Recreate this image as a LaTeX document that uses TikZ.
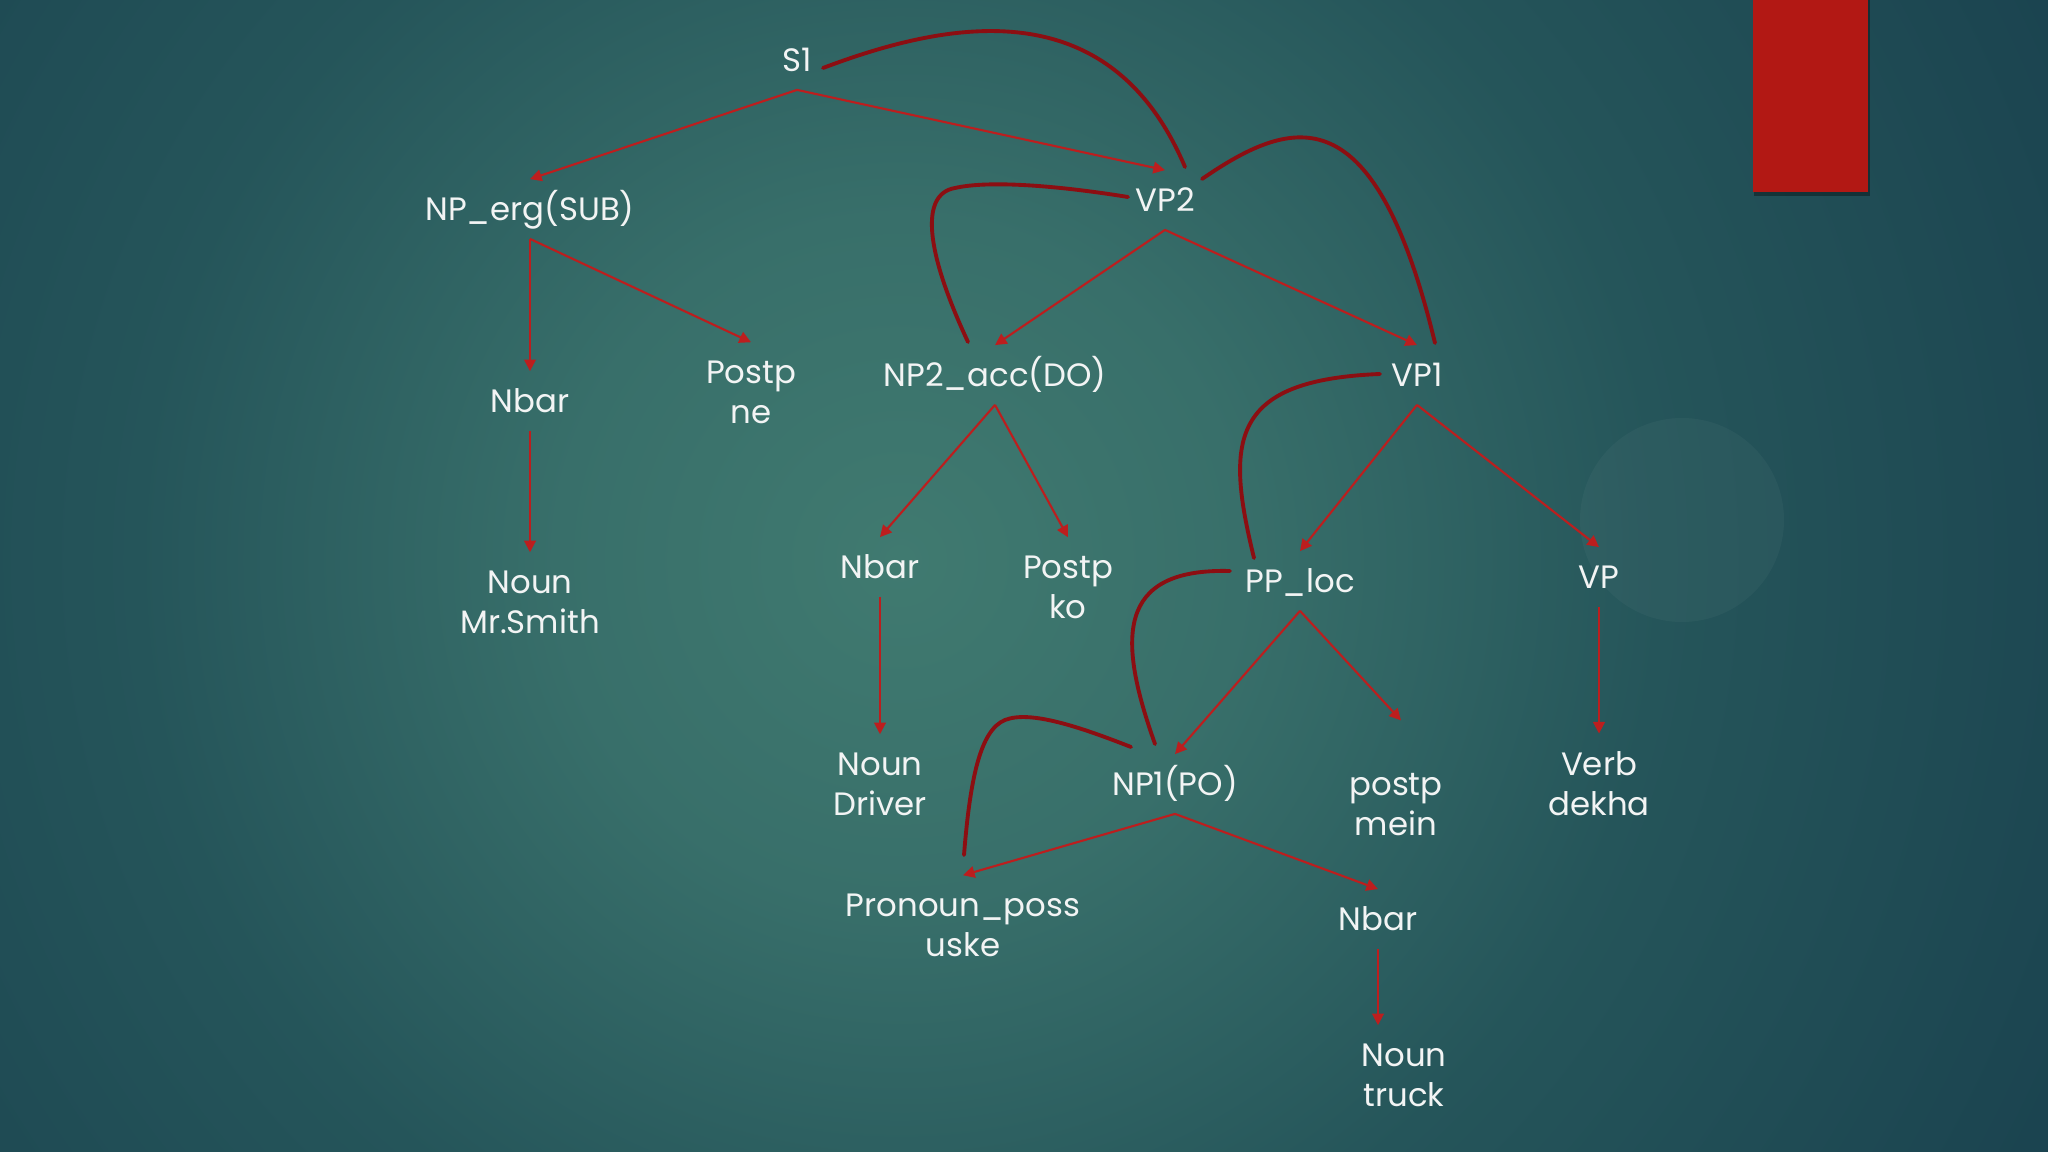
\documentclass[tikz,border=0pt]{standalone}
\usepackage{fontspec}
\setmainfont{Poppins}
\usetikzlibrary{arrows.meta,calc}
\definecolor{bgA}{RGB}{64,122,112}
\definecolor{bgB}{RGB}{56,111,106}
\definecolor{bgC}{RGB}{37,85,90}
\definecolor{bgD}{RGB}{27,68,80}
\definecolor{bgE}{RGB}{20,57,73}
\definecolor{bgF}{RGB}{14,46,67}
\definecolor{arrred}{RGB}{188,30,30}
\definecolor{curvered}{RGB}{140,14,18}
\definecolor{rectred}{RGB}{178,24,20}
\definecolor{txt}{RGB}{242,244,244}
\pgfdeclareradialshading{bgshade}{\pgfpoint{0bp}{0bp}}{color(0bp)=(bgA); color(5.7bp)=(bgB); color(12.7bp)=(bgC); color(21.2bp)=(bgD); color(26.9bp)=(bgE); color(30.4bp)=(bgF); color(50bp)=(bgF)}
\tikzset{
  lbl/.style={text=txt, font=\fontsize{9.2}{11.4}\selectfont, inner xsep=2pt, inner ysep=5pt, text height=6.6pt, text depth=0pt},
  lbltwo/.style={text=txt, font=\fontsize{9.2}{11.4}\selectfont, inner xsep=2pt, inner ysep=5pt, align=center},
  arr/.style={draw=arrred, line width=0.6pt, -{Triangle[length=3.3pt,width=3.3pt]}},
  dep/.style={draw=curvered, line width=1.1pt, line cap=round}
}
\begin{document}
\begin{tikzpicture}[x=0.01cm, y=-0.01cm]
\useasboundingbox (0,0) rectangle (2048,1152);
% background
\begin{scope}
\clip (0,0) rectangle (2048,1152);
\fill[bgF] (0,0) rectangle (2048,1152);
\shade[shading=bgshade] (900,560) circle (1500);
\fill[white, opacity=0.035] (1682,520) circle (102);
\end{scope}
% red tab
\fill[black, opacity=0.35] (1754,0) rectangle (1870,196);
\fill[rectred] (1753,0) rectangle (1868,192);

% nodes
\node[lbl] (S1) at (797,60) {S1};
\node[lbl] (NPerg) at (530,209) {NP\_erg(SUB)};
\node[lbl] (VP2) at (1165,200) {VP2};
\node[lbl] (NbarA) at (530,401) {Nbar};
\node[lbltwo] (PostpNe) at (751,392) {Postp\\ne};
\node[lbl] (NPacc) at (995,375) {NP2\_acc(DO)};
\node[lbl] (VP1) at (1417,375) {VP1};
\node[lbltwo] (NounSmith) at (530,602) {Noun\\Mr.Smith};
\node[lbl] (NbarB) at (880,567) {Nbar};
\node[lbltwo] (PostpKo) at (1068,587) {Postp\\ko};
\node[lbl] (PPloc) at (1300,581) {PP\_loc};
\node[lbl] (VP) at (1599,577) {VP};
\node[lbltwo] (NounDriver) at (880,784) {Noun\\Driver};
\node[lbl] (NP1) at (1175,784) {NP1(PO)};
\node[lbltwo] (PostpMein) at (1396,805) {postp\\mein};
\node[lbltwo] (VerbDekha) at (1599,784) {Verb\\dekha};
\node[lbltwo] (PronPoss) at (963,925) {Pronoun\_poss\\uske};
\node[lbl] (NbarC) at (1378,919) {Nbar};
\node[lbltwo] (NounTruck) at (1404,1075) {Noun\\truck};

% tree arrows
\draw[arr] (S1.south) -- (NPerg.north);
\draw[arr] (S1.south) -- (VP2.north);
\draw[arr] (NPerg.south) -- (NbarA.north);
\draw[arr] (NPerg.south) -- (PostpNe.north);
\draw[arr] (NbarA.south) -- (NounSmith.north);
\draw[arr] (VP2.south) -- (NPacc.north);
\draw[arr] (VP2.south) -- (VP1.north);
\draw[arr] (NPacc.south) -- (NbarB.north);
\draw[arr] (NPacc.south) -- (PostpKo.north);
\draw[arr] (NbarB.south) -- (NounDriver.north);
\draw[arr] (VP1.south) -- (PPloc.north);
\draw[arr] (VP1.south) -- (VP.north);
\draw[arr] (VP.south) -- (VerbDekha.north);
\draw[arr] (PPloc.south) -- (NP1.north);
\coordinate (meinTip) at ($(PostpMein.north)+(5,-35)$);
\draw[arr] (PPloc.south) -- (meinTip);
\draw[arr] (NP1.south) -- (PronPoss.north);
\draw[arr] (NP1.south) -- (NbarC.north);
\draw[arr] (NbarC.south) -- (NbarC.south |- NounTruck.north);

% dependency curves
\coordinate (c1s) at (823,68);   \coordinate (c1e) at (1185,167);
\coordinate (c2s) at (1128,197); \coordinate (c2m) at (955,188); \coordinate (c2e) at (968,342);
\coordinate (c3s) at (1202,179); \coordinate (c3e) at (1435,343);
\coordinate (c4s) at (1380,374); \coordinate (c4e) at (1254,558);
\coordinate (c5s) at (1230,571); \coordinate (c5e) at (1155,744);
\coordinate (c6s) at (1131,747); \coordinate (c6m) at (1005,720); \coordinate (c6e) at (964,855);

\draw[dep] (c1s) .. controls (950,20) and (1110,-10) .. (c1e);
\draw[dep] (c2s) .. controls (1060,186) and (990,180) .. (c2m) .. controls (920,194) and (925,250) .. (c2e);
\draw[dep] (c3s) .. controls (1295,115) and (1375,95) .. (c3e);
\draw[dep] (c4s) .. controls (1230,380) and (1225,440) .. (c4e);
\draw[dep] (c5s) .. controls (1115,568) and (1118,640) .. (c5e);
\draw[dep] (c6s) .. controls (1080,727) and (1030,710) .. (c6m) .. controls (980,730) and (970,780) .. (c6e);
\end{tikzpicture}
\end{document}
